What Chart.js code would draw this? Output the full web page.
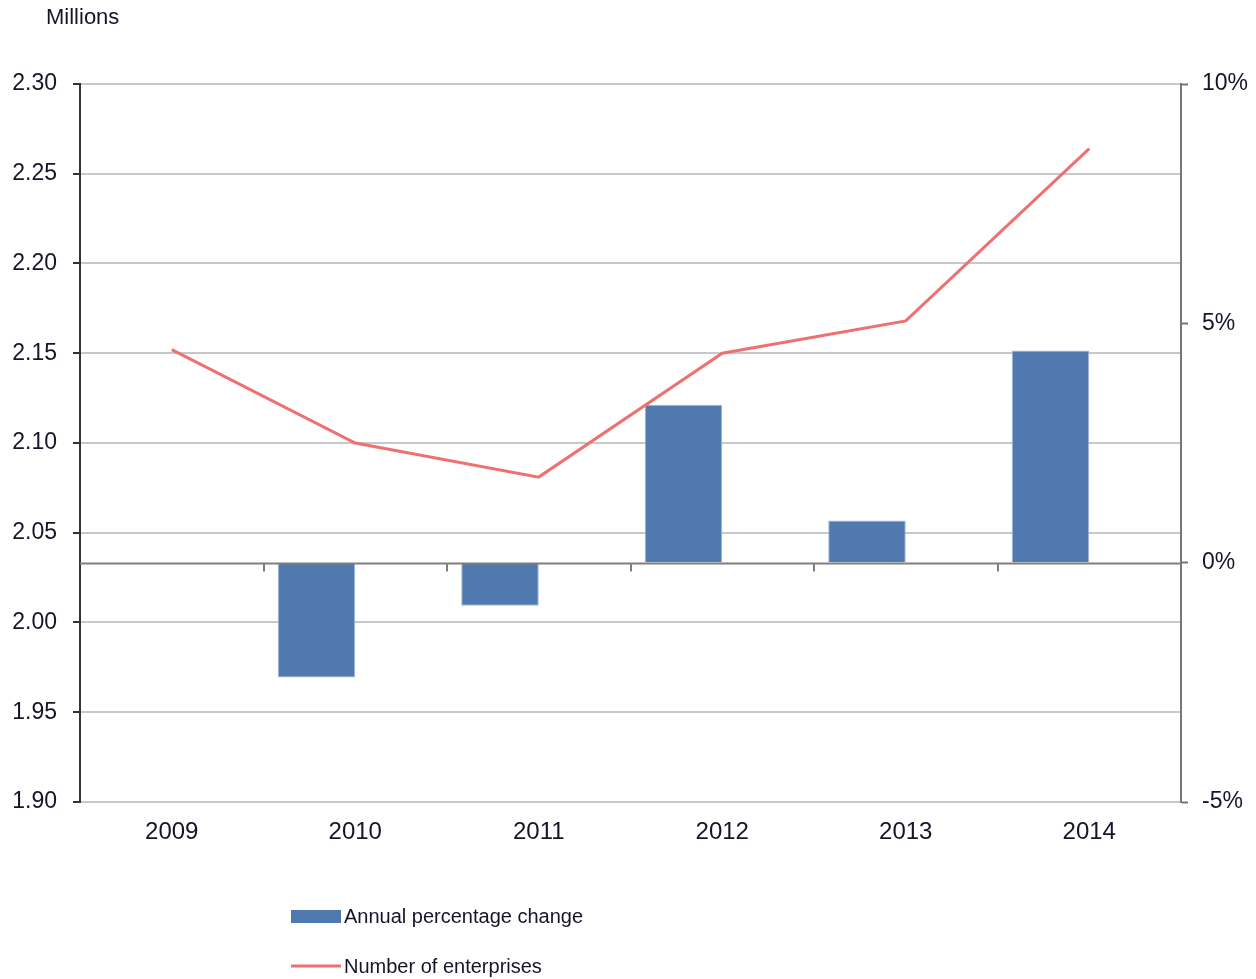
<!DOCTYPE html>
<html>
<head>
<meta charset="utf-8">
<script src="https://cdn.jsdelivr.net/npm/chart.js@4/dist/chart.umd.min.js"></script>
<style>
  html, body { margin: 0; padding: 0; background: #ffffff; }
  #wrap { position: relative; width: 1256px; height: 979px; }
  canvas { display: block; }
</style>
</head>
<body>
<div id="wrap"><canvas id="c" width="1256" height="979"></canvas></div>
<script>
const categories = ['2009', '2010', '2011', '2012', '2013', '2014'];
const enterprises = [2.152, 2.100, 2.081, 2.150, 2.168, 2.264];      // millions
const annualChange = [null, -2.40, -0.90, 3.30, 0.88, 4.43];         // percent
const leftTicks = [1.90, 1.95, 2.00, 2.05, 2.10, 2.15, 2.20, 2.25, 2.30];
const rightTicks = [-5, 0, 5, 10];
const barLabel = 'Annual percentage change';
const lineLabel = 'Number of enterprises';
const leftTitle = 'Millions';

const FONT = '"Liberation Sans", Arial, sans-serif';
const BAR_COLOR = '#5079B0';
const LINE_COLOR = '#EF7070';
const TEXT_COLOR = '#15152a';

const zeroAxisPlugin = {
  id: 'zeroAxis',
  afterDatasetsDraw(chart) {
    const ctx = chart.ctx;
    const x = chart.scales.x;
    const yR = chart.scales.yR;
    const area = chart.chartArea;
    const y0 = Math.round(yR.getPixelForValue(0)) + 0.5;
    ctx.save();
    ctx.strokeStyle = '#7F7F7F';
    ctx.lineWidth = 2;
    ctx.beginPath();
    ctx.moveTo(area.left, y0);
    ctx.lineTo(area.right, y0);
    ctx.stroke();
    for (let i = 1; i < categories.length; i++) {
      const xb = Math.round((x.getPixelForValue(i - 1) + x.getPixelForValue(i)) / 2);
      ctx.beginPath();
      ctx.moveTo(xb, y0);
      ctx.lineTo(xb, y0 + 8);
      ctx.stroke();
    }
    ctx.restore();
  },
  afterDraw(chart) {
    const ctx = chart.ctx;
    ctx.save();
    ctx.fillStyle = TEXT_COLOR;
    ctx.font = '22px ' + FONT;
    ctx.textBaseline = 'middle';
    ctx.textAlign = 'left';
    ctx.fillText(leftTitle, 46, 18);
    // Legend
    ctx.font = '20px ' + FONT;
    ctx.fillStyle = BAR_COLOR;
    ctx.fillRect(291, 910, 50, 13);
    ctx.fillStyle = TEXT_COLOR;
    ctx.fillText(chart.data.datasets[0].label, 344, 917);
    ctx.strokeStyle = LINE_COLOR;
    ctx.lineWidth = 3;
    ctx.beginPath();
    ctx.moveTo(291, 966);
    ctx.lineTo(341, 966);
    ctx.stroke();
    ctx.fillText(chart.data.datasets[2].label, 344, 967);
    ctx.restore();
  }
};

new Chart(document.getElementById('c'), {
  data: {
    labels: categories,
    datasets: [
      {
        type: 'bar',
        label: barLabel,
        data: annualChange,
        yAxisID: 'yR',
        backgroundColor: BAR_COLOR,
        borderColor: '#9FB8DA',
        borderWidth: 1,
        order: 2
      },
      {
        type: 'bar',
        label: '',
        data: categories.map(() => null),
        yAxisID: 'yR',
        backgroundColor: 'rgba(0,0,0,0)',
        order: 3
      },
      {
        type: 'line',
        label: lineLabel,
        data: enterprises,
        yAxisID: 'y',
        borderColor: LINE_COLOR,
        borderWidth: 3,
        pointRadius: 0,
        tension: 0,
        order: 1
      }
    ]
  },
  options: {
    responsive: false,
    animation: false,
    layout: { padding: { top: 84, left: 0, right: 0, bottom: 0 } },
    datasets: {
      bar: { categoryPercentage: 0.845, barPercentage: 1.0 }
    },
    plugins: {
      legend: { display: false },
      tooltip: { enabled: false }
    },
    scales: {
      x: {
        type: 'category',
        offset: true,
        grid: { display: false, drawTicks: false },
        border: { display: false },
        ticks: {
          font: { family: FONT, size: 24 },
          color: TEXT_COLOR,
          padding: 16,
          maxRotation: 0
        },
        afterFit(s) { s.height = 177; }
      },
      y: {
        position: 'left',
        min: 1.90,
        max: 2.30,
        afterBuildTicks(s) { s.ticks = leftTicks.map(v => ({ value: v })); },
        ticks: {
          font: { family: FONT, size: 23 },
          color: TEXT_COLOR,
          padding: 16,
          callback: v => Number(v).toFixed(2)
        },
        grid: {
          color: '#C8C8C8',
          lineWidth: 2,
          tickColor: '#333333',
          tickLength: 7,
          tickWidth: 2
        },
        border: { display: true, color: '#333333', width: 2 },
        afterFit(s) { s.width = 80; }
      },
      yR: {
        position: 'right',
        min: -5,
        max: 10,
        afterBuildTicks(s) { s.ticks = rightTicks.map(v => ({ value: v })); },
        ticks: {
          font: { family: FONT, size: 23 },
          color: TEXT_COLOR,
          padding: 14,
          callback: v => v + '%'
        },
        grid: {
          drawOnChartArea: false,
          tickColor: '#777777',
          tickLength: 7,
          tickWidth: 2
        },
        border: { display: true, color: '#777777', width: 2 },
        afterFit(s) { s.width = 75; }
      }
    }
  },
  plugins: [zeroAxisPlugin]
});
</script>
</body>
</html>
